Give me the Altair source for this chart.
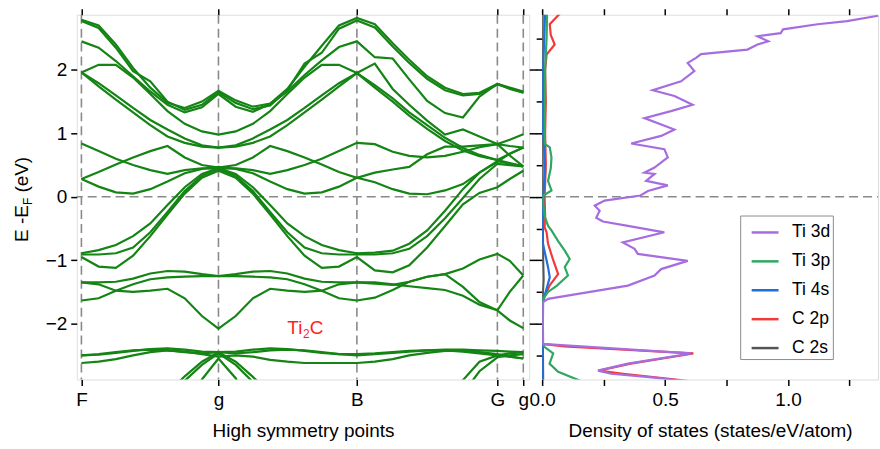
import altair as alt
import pandas as pd

FONT = "Liberation Sans"

# ---------------- band structure (k-path positions and energies in eV) ----------------
SYM_K = [0.0, 0.995, 2.0, 3.02, 3.208]
SYM_LABELS = ["F", "g", "B", "G", "g"]
K = [0.0, 0.125, 0.25, 0.375, 0.5, 0.625, 0.75, 0.875, 0.995,
     1.12, 1.245, 1.37, 1.495, 1.62, 1.745, 1.87, 2.0,
     2.13, 2.26, 2.38, 2.51, 2.64, 2.77, 2.89, 3.02,
     3.11, 3.208]
N = None
BAND_A = [2.79, 2.70, 2.40, 2.03, 1.72, 1.48, 1.40, 1.50, 1.67,
          1.52, 1.42, 1.47, 1.70, 2.05, 2.38, 2.70, 2.82,
          2.72, 2.42, 2.16, 1.90, 1.72, 1.62, 1.64, 1.78,
          1.72, 1.66]
BAND_B = [2.77, 2.66, 2.35, 1.98, 1.82, 1.50, 1.37, 1.45, 1.65,
          1.48, 1.38, 1.44, 1.68, 2.10, 2.27, 2.65, 2.78,
          2.67, 2.37, 2.11, 1.86, 1.68, 1.60, 1.62, 1.77,
          1.71, 1.65]
BAND_C = [2.45, 2.35, 2.14, 1.90, 1.66, 1.45, 1.33, 1.41, 1.62,
          1.42, 1.34, 1.46, 1.66, 1.92, 2.15, 2.36, 2.45,
          2.20, 2.18, 1.85, 1.51, 1.32, 1.25, 1.58, 1.78,
          1.70, 1.64]
BAND_D = [1.96, 2.08, 2.08, 1.88, 1.62, 1.35, 1.15, 1.03, 0.98,
          1.03, 1.15, 1.35, 1.62, 1.88, 2.08, 2.08, 1.95,
          2.10, 1.70, 1.45, 1.20, 0.98, 1.06, 0.95, 0.83,
          0.90, 0.985]
BAND_E1 = [1.96, 1.79, 1.60, 1.40, 1.21, 1.06, 0.92, 0.81, 0.775,
           0.81, 0.92, 1.06, 1.21, 1.40, 1.60, 1.79, 1.95,
           1.76, 1.55, 1.33, 1.13, 0.93, 0.77, 0.66, 0.58,
           0.68, 0.775]
BAND_E2 = [1.96, 1.74, 1.53, 1.33, 1.13, 0.95, 0.85, 0.79, 0.775,
           0.79, 0.85, 0.95, 1.13, 1.33, 1.53, 1.74, 1.95,
           1.72, 1.50, 1.28, 1.07, 0.88, 0.73, 0.64, 0.58,
           0.53, 0.48]
BAND_L1 = [0.84, 0.72, 0.60, 0.50, 0.42, 0.36, 0.42, 0.45, 0.44,
           0.45, 0.42, 0.36, 0.42, 0.50, 0.60, 0.72, 0.85,
           0.83, 0.71, 0.645, 0.62, 0.645, 0.71, 0.78, 0.83,
           0.80, 0.775]
BAND_L2 = [0.28, 0.39, 0.51, 0.62, 0.72, 0.80, 0.62, 0.50, 0.46,
           0.50, 0.62, 0.80, 0.72, 0.62, 0.51, 0.39, 0.30,
           0.38, 0.43, 0.47, 0.67, 0.79, 0.79, 0.81, 0.83,
           0.65, 0.48]
BAND_L3 = [0.28, 0.16, 0.07, 0.05, 0.12, 0.24, 0.37, 0.44, 0.47,
           0.44, 0.37, 0.24, 0.12, 0.05, 0.07, 0.16, 0.30,
           0.23, 0.12, 0.05, 0.04, 0.10, 0.20, 0.38, 0.56,
           0.52, 0.48]
BAND_V1 = [-0.89, -0.84, -0.76, -0.62, -0.42, -0.13, 0.15, 0.36, 0.45,
           0.36, 0.15, -0.13, -0.42, -0.62, -0.76, -0.84, -0.89,
           -0.88, -0.85, -0.74, -0.53, -0.22, 0.12, 0.38, 0.55,
           0.68, 0.775]
BAND_V2 = [-0.91, -0.91, -0.89, -0.80, -0.56, -0.24, 0.09, 0.33, 0.44,
           0.33, 0.09, -0.24, -0.56, -0.80, -0.89, -0.91, -0.91,
           -0.91, -0.89, -0.82, -0.62, -0.34, -0.02, 0.28, 0.52,
           0.50, 0.48]
BAND_V3 = [-0.95, -1.10, -1.12, -0.93, -0.62, -0.28, 0.05, 0.30, 0.41,
           0.30, 0.05, -0.28, -0.62, -0.93, -1.12, -1.10, -0.95,
           -1.16, -1.19, -1.08, -0.80, -0.46, -0.12, 0.06, 0.15,
           0.28, 0.41]
BAND_W1 = [-1.35, -1.35, -1.34, -1.29, -1.21, -1.17, -1.18, -1.22, -1.25,
           -1.22, -1.18, -1.17, -1.21, -1.29, -1.34, -1.35, -1.35,
           -1.35, -1.38, -1.41, -1.44, -1.47, -1.56, -1.70, -1.79,
           -1.50, -1.24]
BAND_W2 = [-1.635, -1.60, -1.48, -1.38, -1.30, -1.27, -1.26, -1.25, -1.25,
           -1.25, -1.26, -1.27, -1.30, -1.38, -1.48, -1.60, -1.635,
           -1.59, -1.47, -1.34, -1.26, -1.22, -1.13, -0.99, -0.90,
           -1.01, -1.24]
BAND_W3 = [-1.35, -1.38, -1.48, -1.50, -1.48, -1.45, -1.60, -1.88, -2.08,
           -1.88, -1.60, -1.45, -1.48, -1.50, -1.48, -1.38, -1.35,
           -1.37, -1.39, -1.34, -1.26, -1.22, -1.42, -1.66, -1.79,
           -1.95, -2.07]
BAND_X1 = [-2.50, -2.49, -2.46, -2.43, -2.40, -2.39, -2.41, -2.44, -2.45,
           -2.44, -2.41, -2.39, -2.40, -2.43, -2.46, -2.48, -2.48,
           -2.47, -2.45, -2.43, -2.42, -2.41, -2.41, -2.42, -2.43,
           -2.44, -2.45]
BAND_X2 = [-2.50, -2.48, -2.45, -2.42, -2.41, -2.42, -2.45, -2.47, -2.45,
           -2.47, -2.45, -2.42, -2.41, -2.42, -2.45, -2.48, -2.50,
           -2.48, -2.46, -2.44, -2.42, -2.42, -2.44, -2.47, -2.50,
           -2.47, -2.45]
BAND_X3 = [-2.62, -2.60, -2.56, -2.50, -2.45, -2.42, -2.44, -2.48, -2.52,
           -2.50, -2.52, -2.57, -2.60, -2.62, -2.62, -2.62, -2.62,
           -2.60, -2.56, -2.50, -2.46, -2.43, -2.42, -2.45, -2.48,
           -2.52, -2.55]
BAND_Y1 = [N, N, N, N, N, -3.10, -2.83, -2.60, -2.45,
           -2.60, -2.84, -3.10, N, N, N, N, N,
           N, N, N, N, N, N, N, N, N, N]
BAND_Y2 = [N, N, N, N, N, -3.30, -2.90, -2.65, -2.47,
           -2.65, -2.92, -3.30, N, N, N, N, N,
           N, N, N, N, N, N, N, N, N, N]
BAND_Y3 = [N, N, N, N, N, N, -3.40, -2.88, -2.55,
           -2.86, -3.40, N, N, N, N, N, N,
           N, N, N, N, N, N, N, N, N, N]
BAND_Y4 = [N, N, N, N, N, N, N, N, N,
           N, N, N, N, N, N, N, N,
           N, N, N, N, -3.30, -2.89, -2.60, -2.50,
           -2.52, -2.55]
BAND_Y5 = [N, N, N, N, N, N, N, N, N,
           N, N, N, N, N, N, N, N,
           N, N, N, N, N, -3.10, -2.75, -2.53,
           -2.50, -2.48]

BANDS = {"A": BAND_A, "B": BAND_B, "C": BAND_C, "D": BAND_D, "E1": BAND_E1, "E2": BAND_E2,
         "L1": BAND_L1, "L2": BAND_L2, "L3": BAND_L3, "V1": BAND_V1, "V2": BAND_V2, "V3": BAND_V3,
         "W1": BAND_W1, "W2": BAND_W2, "W3": BAND_W3, "X1": BAND_X1, "X2": BAND_X2, "X3": BAND_X3,
         "Y1": BAND_Y1, "Y2": BAND_Y2, "Y3": BAND_Y3, "Y4": BAND_Y4, "Y5": BAND_Y5}

# ---------------- projected DOS (energy in eV, states/eV/atom) ----------------
SERIES = ["Ti 3d", "Ti 3p", "Ti 4s", "C 2p", "C 2s"]
COLORS = ["#a66de0", "#2ea862", "#1f6fdc", "#f23a3a", "#555555"]

E_TI3D = [2.90, 2.85, 2.77, 2.72, 2.64, 2.58, 2.53, 2.45, 2.40, 2.32,
          2.25, 2.19, 2.11, 1.98, 1.82, 1.68, 1.59, 1.45, 1.35, 1.24,
          1.06, 0.96, 0.84, 0.75, 0.62, 0.46, 0.38, 0.36, 0.25, 0.18,
          0.09, 0.02, -0.06, -0.14, -0.22, -0.33, -0.39, -0.46, -0.56, -0.72,
          -0.82, -0.90, -1.01, -1.14, -1.24, -1.40, -1.53, -1.61, -1.66, -2.00,
          -2.32, -2.34, -2.47, -2.63, -2.74, -2.79, -2.85, -2.90]
DOS_TI3D = [1.45, 1.36, 1.24, 1.12, 0.98, 0.97, 0.876, 0.92, 0.876, 0.835,
            0.646, 0.626, 0.592, 0.619, 0.565, 0.45, 0.538, 0.612, 0.524, 0.416,
            0.538, 0.484, 0.362, 0.497, 0.511, 0.457, 0.416, 0.457, 0.423, 0.511,
            0.43, 0.40, 0.254, 0.214, 0.234, 0.22, 0.247, 0.349, 0.497, 0.328,
            0.376, 0.389, 0.592, 0.484, 0.457, 0.349, 0.146, 0.024, 0.004, 0.003,
            0.004, 0.078, 0.605, 0.349, 0.227, 0.281, 0.457, 0.57]
E_TI3P = [2.90, 2.50, 2.00, 1.50, 1.00, 0.83, 0.78, 0.62, 0.45, 0.25,
          0.10, 0.02, -0.10, -0.30, -0.46, -0.53, -0.70, -0.85, -0.98, -1.11,
          -1.24, -1.40, -1.50, -1.62, -2.32, -2.37, -2.47, -2.63, -2.76, -2.90]
DOS_TI3P = [0.020, 0.018, 0.012, 0.012, 0.010, 0.012, 0.031, 0.038, 0.035, 0.024,
            0.038, 0.005, 0.004, 0.010, 0.024, 0.038, 0.065, 0.092, 0.112, 0.092,
            0.105, 0.060, 0.024, 0.002, 0.002, 0.010, 0.045, 0.030, 0.065, 0.155]
E_TI4S = [2.90, 2.00, 1.00, 0.80, 0.40, 0.00, -0.72, -0.95, -1.11, -1.27, -1.45, -1.58, -1.66, -2.90]
DOS_TI4S = [0.012, 0.004, 0.004, 0.008, 0.012, 0.004, 0.002, 0.015, 0.024, 0.031, 0.018, 0.008, 0.002, 0.003]
E_C2P = [2.90, 2.80, 2.72, 2.55, 2.40, 2.24, 2.00, 1.50, 1.00, 0.50,
         0.00, -0.30, -0.48, -0.56, -0.74, -1.00, -1.22, -1.40, -1.58, -1.66,
         -2.32, -2.36, -2.47, -2.63, -2.74, -2.79, -2.90]
DOS_C2P = [0.075, 0.050, 0.031, 0.035, 0.051, 0.018, 0.012, 0.015, 0.012, 0.015,
           0.010, 0.012, 0.010, 0.018, 0.024, 0.045, 0.065, 0.030, 0.010, 0.003,
           0.003, 0.090, 0.615, 0.360, 0.230, 0.330, 0.590]
E_C2S = [2.90, 0.00, -1.00, -1.30, -1.66, -2.40, -2.90]
DOS_C2S = [0.002, 0.002, 0.004, 0.006, 0.001, 0.003, 0.004]

# ---------------- tables ----------------
band_rows = []
for name, vals in BANDS.items():
    for kk, e in zip(K, vals):
        if e is not None:
            band_rows.append({"band": name, "k": kk, "E": e})
band_df = pd.DataFrame(band_rows)

dos_series = list(zip(SERIES, [E_TI3D, E_TI3P, E_TI4S, E_C2P, E_C2S],
                      [DOS_TI3D, DOS_TI3P, DOS_TI4S, DOS_C2P, DOS_C2S]))
dos_rows = []
for s, es, vs in reversed(dos_series):  # Ti 3d drawn last (on top)
    for j, (e, v) in enumerate(zip(es, vs)):
        dos_rows.append({"series": s, "E": e, "v": v, "i": j})
dos_df = pd.DataFrame(dos_rows)

sym_df = pd.DataFrame({"k": SYM_K, "label": SYM_LABELS})
zero_df = pd.DataFrame({"E": [0.0]})

# ---------------- styling ----------------
W_BAND, W_DOS, H = 454, 337, 366
E_DOM = [-2.88, 2.87]
K_DOM = [-0.034, 3.251]
V_DOM = [0.0, 1.366]
DASH = dict(stroke="#8a8a8a", strokeDash=[9, 5], strokeWidth=1.6)

tick_style = dict(domain=False, grid=False, tickColor="black", tickWidth=1.5,
                  labelFont=FONT, labelFontSize=19, labelColor="black",
                  titleFont=FONT, titleFontSize=19, titleFontWeight="normal", titleColor="black")

label_expr = " : ".join(
    f"datum.value < {(SYM_K[i] + SYM_K[i + 1]) / 2:.3f} ? '{SYM_LABELS[i]}'" for i in range(len(SYM_K) - 1)
) + f" : '{SYM_LABELS[-1]}'"

kscale = alt.Scale(domain=K_DOM, nice=False, zero=False)
escale = alt.Scale(domain=E_DOM, nice=False, zero=False)
vscale = alt.Scale(domain=V_DOM, nice=False, zero=False)

# ---------------- band panel ----------------
vrules = alt.Chart(sym_df).mark_rule(**DASH).encode(
    x=alt.X("k:Q", scale=kscale,
            axis=alt.Axis(orient="top", values=SYM_K, labels=False, tickSize=6, title=None, **tick_style)))
hrule_b = alt.Chart(zero_df).mark_rule(**DASH).encode(
    y=alt.Y("E:Q", scale=escale,
            axis=alt.Axis(orient="right", values=[-2, -1, 0, 1, 2], labels=False, tickSize=7.5, title=None, **tick_style)))
band_lines = alt.Chart(band_df).mark_line(color="#148414", strokeWidth=2.2, clip=True).encode(
    x=alt.X("k:Q", scale=kscale,
            axis=alt.Axis(orient="bottom", values=SYM_K, labelExpr=label_expr, labelOverlap=False,
                          labelFlush=False, tickSize=6, labelPadding=5, title="High symmetry points",
                          titlePadding=12, **tick_style)),
    y=alt.Y("E:Q", scale=escale,
            axis=alt.Axis(orient="left", values=[-2, -1, 0, 1, 2], tickSize=6, labelPadding=4, title=None,
                          **tick_style)),
    detail="band:N",
    order="k:Q",
)

lab_df = pd.DataFrame({"k": [1.495], "E": [-2.16]})
lab_enc = dict(x=alt.X("k:Q", scale=kscale, axis=None), y=alt.Y("E:Q", scale=escale, axis=None))
lab_style = dict(align="left", baseline="alphabetic", font=FONT, color="#ff1f1f")
lab_ti = alt.Chart(lab_df).mark_text(text="Ti", fontSize=19, **lab_style).encode(**lab_enc)
lab_2 = alt.Chart(lab_df).mark_text(text="2", dx=15.8, dy=4, fontSize=12, **lab_style).encode(**lab_enc)
lab_c = alt.Chart(lab_df).mark_text(text="C", dx=22.5, fontSize=19, **lab_style).encode(**lab_enc)

# y-axis title "E -E_F (eV)" with subscript
yt1 = alt.Chart(zero_df).mark_text(text="E -E", angle=270, align="left", baseline="alphabetic",
                                   font=FONT, fontSize=19, color="black").encode(x=alt.value(-49), y=alt.value(228))
yt2 = alt.Chart(zero_df).mark_text(text="F", angle=270, align="left", baseline="alphabetic",
                                   font=FONT, fontSize=12, color="black").encode(x=alt.value(-45), y=alt.value(191))
yt3 = alt.Chart(zero_df).mark_text(text="(eV)", angle=270, align="left", baseline="alphabetic",
                                   font=FONT, fontSize=19, color="black").encode(x=alt.value(-49), y=alt.value(178.5))
anchor = alt.Chart(zero_df).mark_rule(strokeOpacity=0, strokeWidth=1).encode(
    x=alt.value(-76.5), y=alt.value(0), y2=alt.value(H))

band_panel = alt.layer(vrules, hrule_b, band_lines, lab_ti, lab_2, lab_c, yt1, yt2, yt3, anchor).resolve_axis(
    x="independent", y="independent").properties(width=W_BAND, height=H)

# ---------------- DOS panel ----------------
dos_ticks = [0.0, 0.25, 0.5, 0.75, 1.0, 1.25]
hrule_d_df = pd.DataFrame({"v0": [V_DOM[0]], "v1": [V_DOM[1]], "E": [0.0]})
hrule_d = alt.Chart(hrule_d_df).mark_rule(**DASH).encode(
    x=alt.X("v0:Q", scale=vscale,
            axis=alt.Axis(orient="top", values=dos_ticks, labels=False, tickSize=6, title=None, **tick_style)),
    x2="v1:Q",
    y=alt.Y("E:Q", scale=escale, axis=None),
)
dos_lines = alt.Chart(dos_df).mark_line(strokeWidth=2.2, clip=True).encode(
    x=alt.X("v:Q", scale=vscale,
            axis=alt.Axis(orient="bottom", values=dos_ticks,
                          labelExpr="datum.value % 0.5 == 0 ? format(datum.value, '.1f') : ''",
                          labelFlush=False, labelOverlap=False, tickSize=6, labelPadding=5,
                          title="Density of states (states/eV/atom)", titlePadding=12, **tick_style)),
    y=alt.Y("E:Q", scale=escale,
            axis=alt.Axis(orient="left", values=[-2.5, -2, -1.5, -1, -0.5, 0, 0.5, 1, 1.5, 2, 2.5],
                          labels=False, tickSize=6, title=None, **tick_style)),
    color=alt.Color("series:N", scale=alt.Scale(domain=SERIES, range=COLORS),
                    legend=alt.Legend(orient="none", legendX=665.7, legendY=201.5, title=None,
                                      symbolType="stroke", symbolSize=729, symbolStrokeWidth=2.5,
                                      symbolOffset=8, labelFont=FONT, labelFontSize=17.5, labelColor="black",
                                      labelOffset=12, padding=2, rowPadding=5,
                                      strokeColor="#8c8c8c", fillColor="white")),
    order=alt.Order("i:Q"),
)
dos_panel = alt.layer(hrule_d, dos_lines).resolve_axis(
    x="independent", y="independent").properties(width=W_DOS, height=H)

chart = alt.hconcat(band_panel, dos_panel, spacing=13, bounds="flush").properties(
    padding={"left": 0, "top": 6, "right": 0, "bottom": 5}
).configure_view(stroke="black", strokeWidth=1.6).configure(background="white")

chart.save("out.html", embed_options={"renderer": "svg", "actions": False})
